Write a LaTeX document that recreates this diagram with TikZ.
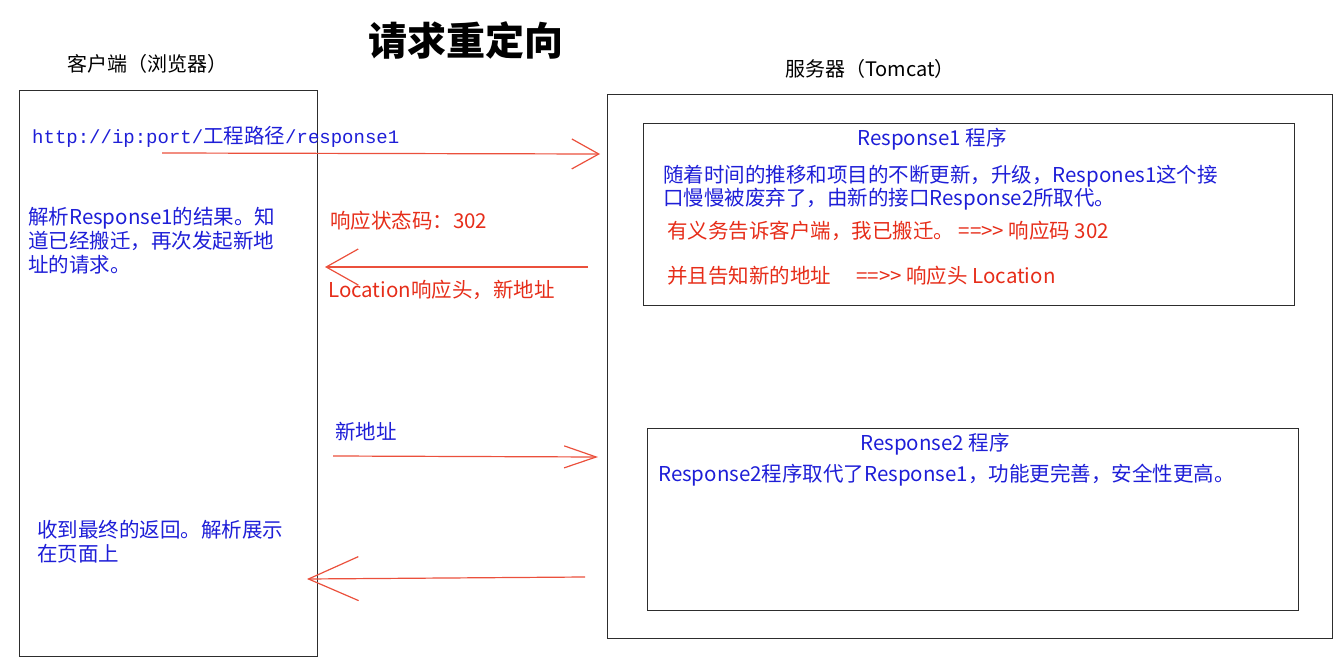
\documentclass[tikz,border=0pt]{standalone}
\usepackage{fontspec}
\setmainfont{Noto Sans CJK SC}
\newfontfamily\urlfont{Liberation Mono}
\usetikzlibrary{arrows.meta,positioning}
\definecolor{txtblue}{RGB}{30,30,215}
\definecolor{txtred}{RGB}{230,45,25}
\definecolor{linered}{RGB}{235,80,60}
\definecolor{boxgray}{RGB}{45,45,45}

\begin{document}
\begin{tikzpicture}[x=1pt,y=-1pt,
    box/.style={draw=boxgray, line width=1.1pt, anchor=north west, inner sep=0pt},
    bluetxt/.style={text=txtblue, anchor=west, inner sep=0pt, align=left, font=\fontsize{20.5}{24}\selectfont},
    redtxt/.style={text=txtred, anchor=west, inner sep=0pt, align=left, font=\fontsize{20.5}{24}\selectfont},
    headtxt/.style={text=black, inner sep=0pt, font=\fontsize{20}{24}\selectfont},
    redarrow/.style 2 args={draw=linered, line width=1.2pt, -{Straight Barb[length=#1pt, width=#2pt, line width=1.2pt]}}
]
    \useasboundingbox (0,0) rectangle (1344,663);

    % Title
    \node[font=\fontsize{39}{40}\selectfont\bfseries, inner sep=0pt] (title) at (466,40) {请求重定向};

    % Client
    \node[headtxt] (clientlabel) at (147,64) {客户端（浏览器）};
    \node[box, minimum width=298, minimum height=566] (client) at (19,90) {};

    % Server
    \node[headtxt] (serverlabel) at (870,69) {服务器（Tomcat）};
    \node[box, minimum width=725, minimum height=544] (server) at (607,94) {};

    % Response1 program
    \node[box, minimum width=651, minimum height=182] (resp1) at (643,123) {};
    \node[bluetxt, anchor=center] (resp1title) at (932,139) {Response1 程序};
    \node[bluetxt, font=\fontsize{20.5}{22}\selectfont] (resp1body) at (663,188)
        {随着时间的推移和项目的不断更新，升级，Respones1这个接\\口慢慢被废弃了，由新的接口Response2所取代。};
    \node[redtxt] (resp1code) at (667,231) {有义务告诉客户端，我已搬迁。 ==>{}> 响应码 302};
    \node[redtxt] (resp1loc) at (667,276) {并且告知新的地址\quad\ ==>{}> 响应头 Location};

    % Response2 program
    \node[box, minimum width=651, minimum height=182] (resp2) at (647,428) {};
    \node[bluetxt, anchor=center] (resp2title) at (935,444) {Response2 程序};
    \node[bluetxt] (resp2body) at (658,475) {Response2程序取代了Response1，功能更完善，安全性更高。};

    % Client texts
    \node[bluetxt] (url) at (32,137) {{\urlfont\fontsize{19}{24}\selectfont http://ip:port/}工程路径{\urlfont\fontsize{19}{24}\selectfont /response1}};
    \node[bluetxt] (parse1) at (28,241) {解析Response1的结果。知\\道已经搬迁，再次发起新地\\址的请求。};
    \node[bluetxt] (final) at (37,542) {收到最终的返回。解析展示\\在页面上};

    % Messages
    \node[redtxt] (status) at (330,221) {响应状态码：302};
    \node[redtxt] (location) at (328,290) {Location响应头，新地址};
    \node[bluetxt] (newaddr) at (335,432) {新地址};

    % Arrow ends
    \coordinate (req1s) at (162,153);
    \coordinate (req1e) at (600,154);
    \coordinate (rep1s) at (588,267);
    \coordinate (rep1e) at (325,267);
    \coordinate (req2s) at (333,456);
    \coordinate (req2e) at (598,457);
    \coordinate (rep2s) at (585,577);
    \coordinate (rep2e) at (307,579);

    % Connections
    \draw[redarrow={27}{30}] (req1s) -- (req1e);
    \draw[redarrow={32}{36}] (rep1s) -- (rep1e);
    \draw[redarrow={32}{22}] (req2s) -- (req2e);
    \draw[redarrow={50}{44}] (rep2s) -- (rep2e);
\end{tikzpicture}
\end{document}
